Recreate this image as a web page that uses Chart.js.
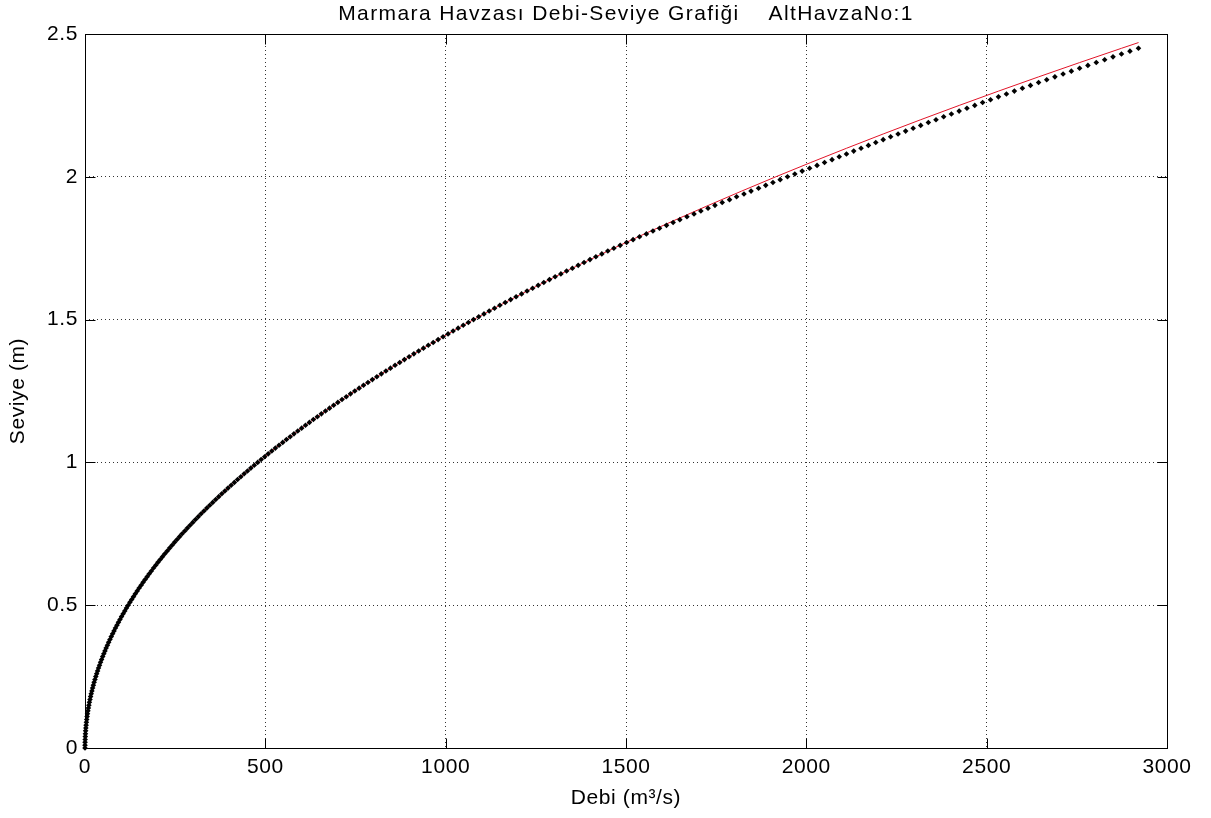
<!DOCTYPE html>
<html>
<head>
<meta charset="utf-8">
<script src="https://cdn.jsdelivr.net/npm/chart.js@4.4.0/dist/chart.umd.min.js"></script>
<style>
  html, body { margin: 0; padding: 0; background: #fff; }
</style>
</head>
<body>
<canvas id="grafik" width="1211" height="818"></canvas>
<script>
// Debi-seviye grafigi (MATLAB gorunumu).
var BASLIK = 'Marmara Havzası Debi-Seviye Grafiği    AltHavzaNo:1';
var X_BASLIK = 'Debi (m³/s)';
var Y_BASLIK = 'Seviye (m)';

var xTicks = [0, 500, 1000, 1500, 2000, 2500, 3000];
var yTicks = [0, 0.5, 1, 1.5, 2, 2.5];

// kirmizi egri (anahtar egrisi)
var egriSeviye = [0, 0.05, 0.10, 0.15, 0.20, 0.25, 0.30, 0.35, 0.40, 0.45,
  0.50, 0.55, 0.60, 0.65, 0.70, 0.75, 0.80, 0.85, 0.90, 0.95,
  1.00, 1.05, 1.10, 1.15, 1.20, 1.25, 1.30, 1.35, 1.40, 1.45,
  1.50, 1.55, 1.60, 1.65, 1.70, 1.75, 1.80, 1.85, 1.90, 1.95,
  2.00, 2.05, 2.10, 2.15, 2.20, 2.25, 2.30, 2.35, 2.40, 2.45, 2.47];
var egriDebi = [0, 1.20, 4.79, 10.77, 19.15, 29.93, 43.09, 58.65, 76.61, 96.96,
  119.7, 144.8, 172.4, 202.3, 234.6, 269.3, 306.4, 345.9, 387.8, 432.1,
  478.8, 527.9, 579.3, 633.2, 689.5, 748.1, 809.2, 872.6, 938.4, 1006.7,
  1077.3, 1150.3, 1225.7, 1303.5, 1383.7, 1466.3, 1551.3, 1638.7, 1728.5, 1820.6,
  1915.2, 2012.2, 2111.5, 2213.2, 2317.4, 2423.9, 2532.8, 2644.2, 2757.9, 2874.0, 2921.1];

// siyah noktalar
var noktaSeviye = [0, 0.01, 0.02, 0.03, 0.04, 0.05, 0.06, 0.07, 0.08, 0.09,
  0.10, 0.11, 0.12, 0.13, 0.14, 0.15, 0.16, 0.17, 0.18, 0.19,
  0.20, 0.21, 0.22, 0.23, 0.24, 0.25, 0.26, 0.27, 0.28, 0.29,
  0.30, 0.31, 0.32, 0.33, 0.34, 0.35, 0.36, 0.37, 0.38, 0.39,
  0.40, 0.41, 0.42, 0.43, 0.44, 0.45, 0.46, 0.47, 0.48, 0.49,
  0.50, 0.51, 0.52, 0.53, 0.54, 0.55, 0.56, 0.57, 0.58, 0.59,
  0.60, 0.61, 0.62, 0.63, 0.64, 0.65, 0.66, 0.67, 0.68, 0.69,
  0.70, 0.71, 0.72, 0.73, 0.74, 0.75, 0.76, 0.77, 0.78, 0.79,
  0.80, 0.81, 0.82, 0.83, 0.84, 0.85, 0.86, 0.87, 0.88, 0.89,
  0.90, 0.91, 0.92, 0.93, 0.94, 0.95, 0.96, 0.97, 0.98, 0.99,
  1.00, 1.01, 1.02, 1.03, 1.04, 1.05, 1.06, 1.07, 1.08, 1.09,
  1.10, 1.11, 1.12, 1.13, 1.14, 1.15, 1.16, 1.17, 1.18, 1.19,
  1.20, 1.21, 1.22, 1.23, 1.24, 1.25, 1.26, 1.27, 1.28, 1.29,
  1.30, 1.31, 1.32, 1.33, 1.34, 1.35, 1.36, 1.37, 1.38, 1.39,
  1.40, 1.41, 1.42, 1.43, 1.44, 1.45, 1.46, 1.47, 1.48, 1.49,
  1.50, 1.51, 1.52, 1.53, 1.54, 1.55, 1.56, 1.57, 1.58, 1.59,
  1.60, 1.61, 1.62, 1.63, 1.64, 1.65, 1.66, 1.67, 1.68, 1.69,
  1.70, 1.71, 1.72, 1.73, 1.74, 1.75, 1.76, 1.77, 1.78, 1.79,
  1.80, 1.81, 1.82, 1.83, 1.84, 1.85, 1.86, 1.87, 1.88, 1.89,
  1.90, 1.91, 1.92, 1.93, 1.94, 1.95, 1.96, 1.97, 1.98, 1.99,
  2.00, 2.01, 2.02, 2.03, 2.04, 2.05, 2.06, 2.07, 2.08, 2.09,
  2.10, 2.11, 2.12, 2.13, 2.14, 2.15, 2.16, 2.17, 2.18, 2.19,
  2.20, 2.21, 2.22, 2.23, 2.24, 2.25, 2.26, 2.27, 2.28, 2.29,
  2.30, 2.31, 2.32, 2.33, 2.34, 2.35, 2.36, 2.37, 2.38, 2.39,
  2.40, 2.41, 2.42, 2.43, 2.44, 2.45];
var noktaDebi = [0, 0.05, 0.19, 0.43, 0.77, 1.20, 1.72, 2.35, 3.06, 3.88,
  4.79, 5.79, 6.89, 8.09, 9.38, 10.77, 12.26, 13.84, 15.51, 17.28,
  19.15, 21.12, 23.17, 25.33, 27.58, 29.93, 32.37, 34.90, 37.54, 40.27,
  43.09, 46.01, 49.03, 52.14, 55.35, 58.65, 62.05, 65.55, 69.14, 72.83,
  76.61, 80.49, 84.46, 88.53, 92.70, 96.96, 101.3, 105.8, 110.3, 115.0,
  119.7, 124.5, 129.5, 134.5, 139.6, 144.8, 150.2, 155.6, 161.1, 166.7,
  172.4, 178.2, 184.0, 190.0, 196.1, 202.3, 208.6, 214.9, 221.4, 228.0,
  234.6, 241.4, 248.2, 255.2, 262.2, 269.3, 276.6, 283.9, 291.3, 298.8,
  306.4, 314.1, 321.9, 329.8, 337.8, 345.9, 354.1, 362.4, 370.8, 379.3,
  387.8, 396.5, 405.3, 414.1, 423.1, 432.1, 441.3, 450.5, 459.8, 469.3,
  478.8, 488.4, 498.1, 508.0, 517.9, 527.9, 538.0, 548.2, 558.5, 568.9,
  579.3, 589.9, 600.6, 611.4, 622.2, 633.2, 644.3, 655.4, 666.7, 678.0,
  689.5, 701.0, 712.6, 724.4, 736.2, 748.1, 760.1, 772.3, 784.5, 796.8,
  809.2, 821.7, 834.3, 846.9, 859.7, 872.6, 885.6, 898.7, 911.8, 925.1,
  938.4, 951.9, 965.5, 979.1, 992.8, 1006.7, 1020.6, 1034.6, 1048.8, 1063.0,
  1077.3, 1091.7, 1106.2, 1120.8, 1135.5, 1150.3, 1165.2, 1180.2, 1195.3, 1210.5,
  1225.7, 1241.1, 1256.6, 1272.1, 1287.8, 1303.5, 1319.4, 1335.3, 1351.4, 1367.5,
  1383.7, 1400.1, 1416.5, 1433.0, 1449.6, 1466.3, 1483.9, 1501.7, 1519.6, 1537.5,
  1556.5, 1574.7, 1593.0, 1612.3, 1630.7, 1649.3, 1669.0, 1688.6, 1707.6, 1727.5,
  1746.7, 1766.8, 1787.1, 1806.6, 1827.1, 1846.7, 1867.6, 1887.4, 1907.4, 1927.5,
  1947.8, 1968.1, 1988.5, 2009.1, 2029.7, 2050.5, 2071.3, 2091.2, 2111.3, 2131.4,
  2151.7, 2172.1, 2192.5, 2213.1, 2233.7, 2254.4, 2275.3, 2296.2, 2317.1, 2338.3,
  2359.5, 2380.8, 2402.2, 2423.7, 2445.3, 2467.0, 2488.8, 2510.7, 2532.7, 2554.8,
  2576.8, 2599.1, 2621.5, 2644.0, 2666.5, 2689.2, 2711.9, 2734.8, 2757.7, 2780.7,
  2803.9, 2827.1, 2850.3, 2873.8, 2897.3, 2920.9];

var FONT = 'Liberation Sans, Arial, Helvetica, sans-serif';
var fontTick = { family: FONT, size: 21 };
var fontEtiket = { family: FONT, size: 21 };

function noktalar(xs, ys) {
  return xs.map(function (x, i) { return { x: x, y: ys[i] }; });
}

// MATLAB kutusu: cerceve, iceri bakan tick cizgileri ve baslik
var kutuPlugin = {
  id: 'matlabKutu',
  beforeDraw: function (chart) {
    chart.ctx.letterSpacing = '0.6px';
  },
  afterDraw: function (chart) {
    var ctx = chart.ctx, a = chart.chartArea;
    var sx = chart.scales.x, sy = chart.scales.y;
    var L = Math.round(a.left) + 0.5, R = Math.round(a.right) + 0.5;
    var T = Math.round(a.top) + 0.5, B = Math.round(a.bottom) + 0.5;
    var tl = 10;
    ctx.save();
    ctx.strokeStyle = '#000';
    ctx.lineWidth = 1;
    ctx.setLineDash([]);
    ctx.strokeRect(L, T, R - L, B - T);
    ctx.beginPath();
    xTicks.forEach(function (v) {
      var px = Math.round(sx.getPixelForValue(v)) + 0.5;
      ctx.moveTo(px, B); ctx.lineTo(px, B - tl);
      ctx.moveTo(px, T); ctx.lineTo(px, T + tl);
    });
    yTicks.forEach(function (v) {
      var py = Math.round(sy.getPixelForValue(v)) + 0.5;
      ctx.moveTo(L, py); ctx.lineTo(L + tl, py);
      ctx.moveTo(R, py); ctx.lineTo(R - tl, py);
    });
    ctx.stroke();
    ctx.fillStyle = '#000';
    ctx.font = '21px ' + FONT;
    ctx.letterSpacing = '1.4px';
    ctx.textAlign = 'center';
    ctx.textBaseline = 'middle';
    ctx.fillText(BASLIK, (a.left + a.right) / 2, 14);
    ctx.restore();
  }
};

new Chart(document.getElementById('grafik'), {
  type: 'scatter',
  data: {
    datasets: [
      {
        label: 'Ölçüm',
        data: noktalar(noktaDebi, noktaSeviye),
        showLine: false,
        pointStyle: 'rectRot',
        pointRadius: 2.8,
        pointBorderWidth: 0,
        backgroundColor: '#000',
        borderColor: '#000',
        clip: false,
        order: 1
      },
      {
        label: 'Eğri',
        data: noktalar(egriDebi, egriSeviye),
        showLine: true,
        borderColor: 'rgb(225,20,40)',
        borderWidth: 1,
        pointRadius: 0,
        tension: 0,
        clip: false,
        order: 2
      }
    ]
  },
  options: {
    responsive: false,
    animation: false,
    devicePixelRatio: 1,
    layout: { padding: { top: 34, right: 44, left: 0, bottom: 0 } },
    plugins: {
      legend: { display: false },
      title: { display: false },
      tooltip: { enabled: false }
    },
    scales: {
      x: {
        type: 'linear',
        min: 0, max: 3000,
        afterBuildTicks: function (s) { s.ticks = xTicks.map(function (v) { return { value: v }; }); },
        afterFit: function (s) { s.height = 70; },
        ticks: { callback: function (v) { return String(v); }, font: fontTick, color: '#000', padding: 7, maxRotation: 0, autoSkip: false },
        grid: { color: '#333', lineWidth: 1, drawTicks: false },
        border: { display: false, dash: [1, 3] },
        title: { display: true, text: X_BASLIK, font: fontEtiket, color: '#000', padding: { top: 0, bottom: 7 } }
      },
      y: {
        type: 'linear',
        min: 0, max: 2.5,
        afterBuildTicks: function (s) { s.ticks = yTicks.map(function (v) { return { value: v }; }); },
        afterFit: function (s) { s.width = 85; },
        ticks: { callback: function (v) { return String(v); }, font: fontTick, color: '#000', padding: 7, autoSkip: false },
        grid: { color: '#333', lineWidth: 1, drawTicks: false },
        border: { display: false, dash: [1, 3] },
        title: { display: true, text: Y_BASLIK, font: fontEtiket, color: '#000', padding: { top: 6, bottom: 0 } }
      }
    }
  },
  plugins: [kutuPlugin]
});
</script>
</body>
</html>
